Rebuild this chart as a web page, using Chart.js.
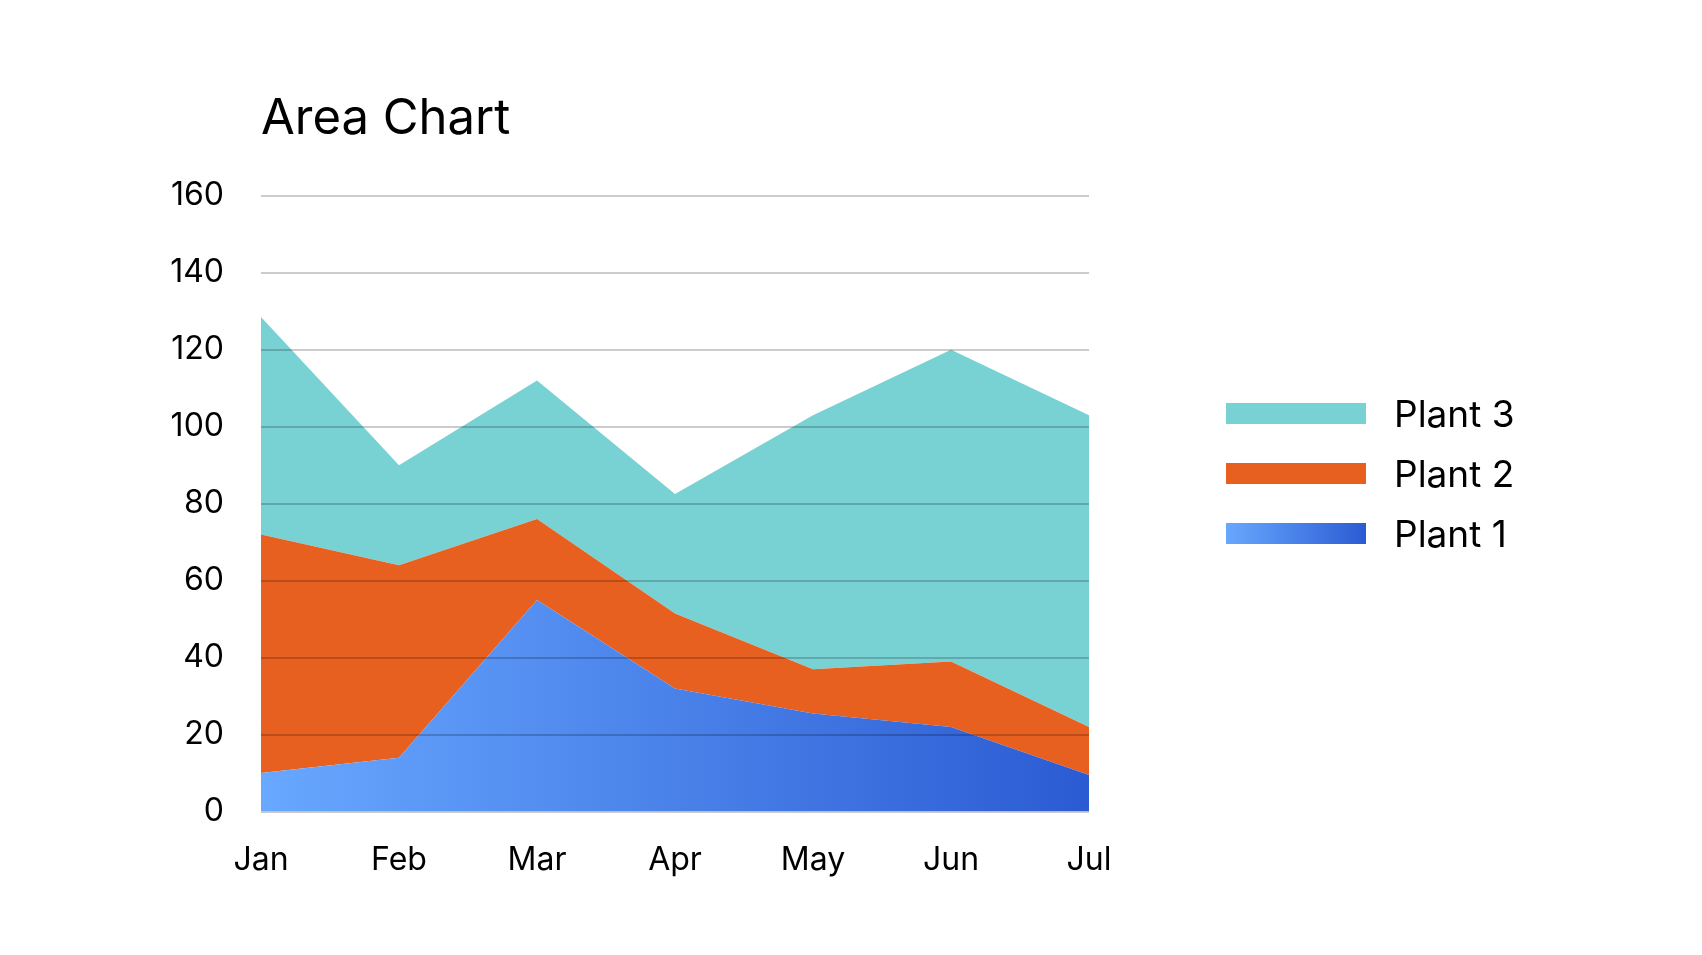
<!DOCTYPE html>
<html lang="en">

<head>
  <meta charset="UTF-8">
  <title>Area Chart</title>
  <style>
    body {
      margin: 0;
      background: #fff;
      font-family: 'Inter', sans-serif;
      overflow: hidden;
    }

    .wrap {
      position: relative;
      width: 1702px;
      height: 955px;
    }

    .legend {
      position: absolute;
      left: 1226px;
      top: 383px;
    }

    .legend-row {
      display: flex;
      align-items: center;
      height: 60px;
    }

    .legend-box {
      width: 140px;
      height: 21px;
    }

    .legend-text {
      margin-left: 28px;
      font-size: 37px;
      line-height: 37px;
      color: #000;
    }
  </style>
</head>

<body>
  <div class="wrap">
    <canvas id="chart" width="1702" height="955"></canvas>
    <div class="legend" id="legend"></div>
  </div>
  <script src="https://cdn.jsdelivr.net/npm/chart.js"></script>
  <script>
    const months = ['Jan', 'Feb', 'Mar', 'Apr', 'May', 'Jun', 'Jul'];
    const plant1 = [10, 14, 55, 32, 25.5, 22, 9.5];
    const plant2 = [62, 50, 21, 19.5, 11.5, 17, 12.5];
    const plant3 = [56.5, 26, 36, 31, 66, 81, 81];
    const seriesNames = ['Plant 1', 'Plant 2', 'Plant 3'];

    const teal = '#78d2d4';
    const orange = '#e8601f';
    const blueStart = '#68a8ff';
    const blueEnd = '#2b5bd3';

    function blueGradient(context) {
      const { ctx, chartArea } = context.chart;
      if (!chartArea) return blueEnd;
      const g = ctx.createLinearGradient(chartArea.left, 0, chartArea.right, 0);
      g.addColorStop(0, blueStart);
      g.addColorStop(1, blueEnd);
      return g;
    }

    Chart.defaults.font.family = "'Inter', sans-serif";
    Chart.defaults.color = '#000';

    const chart = new Chart(document.getElementById('chart'), {
      type: 'line',
      data: {
        labels: months,
        datasets: [
          { label: seriesNames[0], data: plant1, backgroundColor: blueGradient, fill: 'origin', legendCss: `linear-gradient(to right, ${blueStart}, ${blueEnd})` },
          { label: seriesNames[1], data: plant2, backgroundColor: orange, fill: '-1', legendCss: orange },
          { label: seriesNames[2], data: plant3, backgroundColor: teal, fill: '-1', legendCss: teal }
        ]
      },
      options: {
        responsive: false,
        animation: false,
        layout: {
          padding: { left: 169, right: 613, top: 0, bottom: 45 }
        },
        elements: {
          line: { tension: 0, borderWidth: 0 },
          point: { radius: 0, hoverRadius: 0 }
        },
        plugins: {
          legend: { display: false },
          tooltip: { enabled: false },
          title: {
            display: true,
            text: 'Area Chart',
            align: 'start',
            fullSize: false,
            color: '#000',
            font: { size: 49, weight: 'normal' },
            padding: { top: 90, bottom: 47 }
          }
        },
        scales: {
          x: {
            grid: { display: false, drawTicks: false },
            border: { display: false },
            ticks: { font: { size: 32 }, padding: 30, maxRotation: 0 }
          },
          y: {
            stacked: true,
            min: 0,
            max: 160,
            afterFit: (scale) => { scale.width = 92; },
            ticks: { stepSize: 20, font: { size: 32 }, padding: 37 },
            border: { display: false },
            grid: {
              color: 'rgba(0, 0, 0, 0.2)',
              lineWidth: 2,
              drawTicks: false,
              z: 1
            }
          }
        }
      }
    });

    // legend, top series first
    const legendEl = document.getElementById('legend');
    chart.data.datasets.slice().reverse().forEach((ds) => {
      const row = document.createElement('div');
      row.className = 'legend-row';
      row.innerHTML = `<div class="legend-box" style="background:${ds.legendCss}"></div><span class="legend-text">${ds.label}</span>`;
      legendEl.appendChild(row);
    });
  </script>
</body>

</html>
